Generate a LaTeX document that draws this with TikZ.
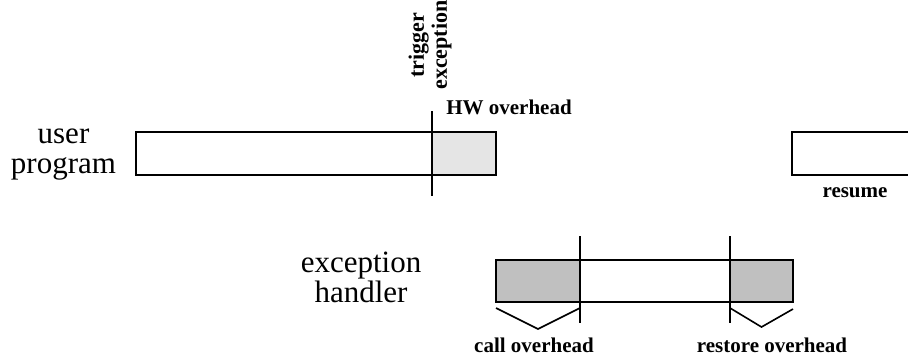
\documentclass[tikz,border=0pt]{standalone}
\usepackage{fontspec}
\setmainfont{Liberation Serif}
\usepackage{tikz}
\usetikzlibrary{positioning}
\definecolor{hwgray}{RGB}{229, 229, 229}
\definecolor{ovgray}{RGB}{192, 192, 192}
\tikzset{
  seg/.style={draw, line width=1pt, inner sep=0pt, outer sep=0pt, minimum height=21.5pt},
  bigtext/.style={font=\fontsize{15.5}{15}\selectfont, align=center, inner sep=0pt},
  lbl/.style={font=\fontsize{10.5}{11.5}\selectfont\bfseries, align=center, inner sep=0pt},
  tickline/.style={line width=1pt}
}

\begin{document}
\begin{tikzpicture}[x=0.5pt, y=-0.5pt]
  \useasboundingbox (0,0) rectangle (908,360);

  % User program
  \node[bigtext] (usertxt) at (63.5,155) {user\\program};
  \node[seg, minimum width=148pt, anchor=west] (user) at (136,153.5) {};
  \node[seg, fill=hwgray, minimum width=32pt, anchor=west] (hw) at (user.east) {};
  \node[seg, minimum width=70pt, anchor=west] (resume) at (792,153.5) {};

  % Trigger
  \draw[tickline] ([yshift=10.5pt]hw.north west) -- ([yshift=-10.5pt]hw.south west);
  \node[lbl, rotate=90, font=\fontsize{11}{11.5}\selectfont\bfseries] (trigger) at (430,45) {trigger\\exception};
  \node[lbl] (hwlbl) at (509,107) {HW overhead};
  \node[lbl] (resumelbl) at (855,193) {resume};

  % Exception handler
  \node[bigtext] (handlertxt) at (361,277.5) {exception\\handler};
  \node[seg, fill=ovgray, minimum width=42pt, minimum height=21pt, anchor=west] (call) at (496,281) {};
  \node[seg, minimum width=75pt, minimum height=21pt, anchor=west] (body) at (call.east) {};
  \node[seg, fill=ovgray, minimum width=31.5pt, minimum height=21pt, anchor=west] (restore) at (body.east) {};

  \draw[tickline] ([yshift=12pt]body.north west) -- ([yshift=-10.5pt]body.south west);
  \draw[tickline] ([yshift=12pt]body.north east) -- ([yshift=-10.5pt]body.south east);

  % Braces
  \draw[line width=0.8pt] ([yshift=-3pt]call.south west) -- ([yshift=-13.5pt]call.south)
    -- ([yshift=-3pt]call.south east);
  \draw[line width=0.8pt] ([yshift=-3pt]restore.south west) -- ([yshift=-12.5pt]restore.south)
    -- ([yshift=-3.5pt]restore.south east);

  % Labels
  \node[lbl] (calllbl) at (534,345.5) {call overhead};
  \node[lbl] (restorelbl) at (772,345.5) {restore overhead};
\end{tikzpicture}
\end{document}
